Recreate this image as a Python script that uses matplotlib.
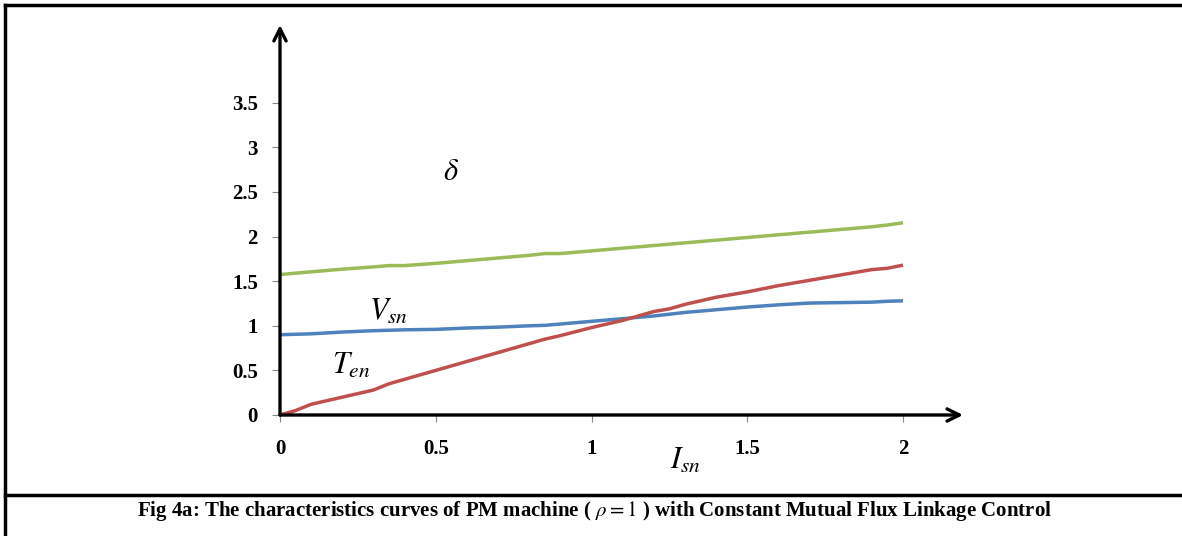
import matplotlib
matplotlib.use("Agg")
import matplotlib.pyplot as plt
from matplotlib.lines import Line2D

plt.rcParams['font.family'] = ['Liberation Serif', 'DejaVu Serif']
plt.rcParams['mathtext.fontset'] = 'stix'

# Data
I_vals = [0.0, 0.05, 0.1, 0.2, 0.3, 0.35, 0.4, 0.5, 0.6, 0.7, 0.8, 0.85, 0.9, 1.0,
          1.1, 1.2, 1.25, 1.3, 1.4, 1.5, 1.6, 1.7, 1.8, 1.9, 1.95, 2.0]
delta = [1.575, 1.59, 1.605, 1.635, 1.66, 1.675, 1.675, 1.70, 1.73, 1.76, 1.79, 1.81, 1.81, 1.84,
         1.87, 1.90, 1.915, 1.93, 1.96, 1.99, 2.02, 2.05, 2.08, 2.11, 2.13, 2.155]
V_sn = [0.90, 0.905, 0.91, 0.93, 0.945, 0.95, 0.955, 0.96, 0.975, 0.985, 1.0, 1.005, 1.02, 1.05,
        1.08, 1.11, 1.13, 1.15, 1.18, 1.21, 1.235, 1.255, 1.26, 1.265, 1.275, 1.28]
T_en = [0.0, 0.05, 0.12, 0.20, 0.28, 0.35, 0.40, 0.50, 0.60, 0.70, 0.80, 0.85, 0.89, 0.98,
        1.06, 1.16, 1.19, 1.24, 1.32, 1.38, 1.45, 1.51, 1.57, 1.63, 1.645, 1.68]

x_ticks = [0, 0.5, 1, 1.5, 2]
x_tick_labels = ['0', '0.5', '1', '1.5', '2']
y_ticks = [0, 0.5, 1, 1.5, 2, 2.5, 3, 3.5]
y_tick_labels = ['0', '0.5', '1', '1.5', '2', '2.5', '3', '3.5']

W, H = 1182, 536
fig = plt.figure(figsize=(W / 100, H / 100), dpi=100)

# Axes geometry (pixels)
x0, x1 = 280, 963
y0, y1 = 415, 25
ax = fig.add_axes([x0 / W, 1 - y0 / H, (x1 - x0) / W, (y0 - y1) / H])
xmax = (x1 - x0) / 311.5
ymax = (y0 - y1) / 89.2
ax.set_xlim(0, xmax)
ax.set_ylim(0, ymax)
for s in ax.spines.values():
    s.set_visible(False)

ax.plot(I_vals, delta, color='#9BBB59', lw=2.5, solid_capstyle='butt', zorder=3)
ax.plot(I_vals, V_sn, color='#4F81BD', lw=2.5, solid_capstyle='butt', zorder=3)
ax.plot(I_vals, T_en, color='#C0504D', lw=2.5, solid_capstyle='butt', zorder=4)

# axis arrows
ax.annotate('', xy=(xmax, 0), xytext=(0, 0), xycoords='data',
            arrowprops=dict(arrowstyle='->', lw=2.4, color='black',
                            mutation_scale=22, shrinkA=0, shrinkB=0), annotation_clip=False, zorder=5)
ax.annotate('', xy=(0, ymax), xytext=(0, 0), xycoords='data',
            arrowprops=dict(arrowstyle='->', lw=2.4, color='black',
                            mutation_scale=22, shrinkA=0, shrinkB=0), annotation_clip=False, zorder=5)

ax.set_xticks(x_ticks)
ax.set_xticklabels(x_tick_labels, fontsize=15, fontweight='bold')
ax.set_yticks(y_ticks)
ax.set_yticklabels(y_tick_labels, fontsize=15, fontweight='bold')
ax.tick_params(axis='x', direction='out', length=5, width=0.8, color='#888888', pad=12)
ax.tick_params(axis='y', direction='out', length=6, width=0.8, color='#888888', pad=10)

# curve labels
ax.text(0.55, 2.72, r'$\delta$', fontsize=22, ha='center', va='center')
ax.text(0.35, 1.15, r'$V_{sn}$', fontsize=22, ha='center', va='center')
ax.text(0.23, 0.55, r'$T_{en}$', fontsize=22, ha='center', va='center')
ax.text(1.30, -0.52, r'$I_{sn}$', fontsize=22, ha='center', va='center', clip_on=False)

# frame lines
fig.add_artist(Line2D([5 / W, 5 / W], [0, 1 - 5 / H], color='black', lw=2.5, transform=fig.transFigure))
fig.add_artist(Line2D([5 / W, 1], [1 - 5 / H, 1 - 5 / H], color='black', lw=2.5, transform=fig.transFigure))
fig.add_artist(Line2D([5 / W, 1], [1 - 495 / H, 1 - 495 / H], color='black', lw=2.5, transform=fig.transFigure))

fig.text(595 / W, 1 - 511 / H,
         r'Fig 4a: The characteristics curves of PM machine ( $\rho = 1$ ) with Constant Mutual Flux Linkage Control',
         fontsize=15, fontweight='bold', ha='center', va='center')

fig.savefig('out.png', dpi=100)
